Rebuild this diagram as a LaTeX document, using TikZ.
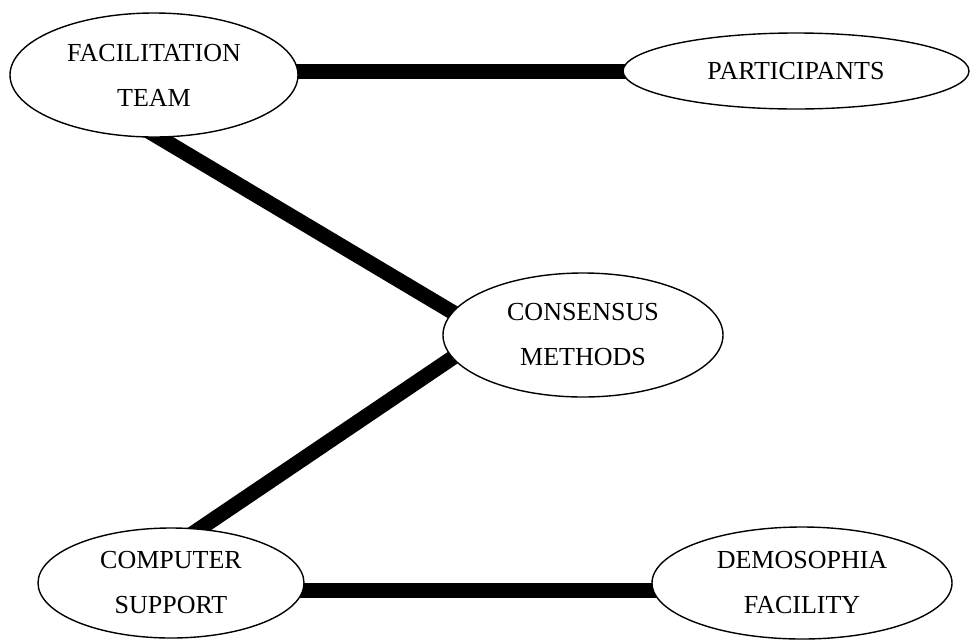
\documentclass[tikz,border=0pt]{standalone}
\usepackage{fontspec}
\setmainfont{Liberation Serif}
\usetikzlibrary{shapes.geometric,backgrounds,calc}
\tikzset{
  blob/.style={ellipse, draw=black, line width=1.4pt, fill=white, inner sep=0pt,
    align=center, font=\fontsize{26}{45}\selectfont},
  link/.style={line width=15pt, black}
}
\begin{document}
\begin{tikzpicture}[x=1pt,y=-1pt]
\useasboundingbox (0,0) rectangle (972,641);
\node[blob, minimum width=288pt, minimum height=124pt] (ft) at (154,75) {FACILITATION\\TEAM};
\node[blob, minimum width=346pt, minimum height=76pt] (pa) at (796,71) {PARTICIPANTS};
\node[blob, minimum width=280pt, minimum height=124pt] (cm) at (583,335) {CONSENSUS\\METHODS};
\node[blob, minimum width=266pt, minimum height=110pt] (cs) at (171,583) {COMPUTER\\SUPPORT};
\node[blob, minimum width=300pt, minimum height=112pt] (df) at (802,583) {DEMOSOPHIA\\FACILITY};
\begin{scope}[on background layer]
\draw[link] (ft.center |- pa.center) -- (pa.center);
\draw[link] ($(ft.-85)!-20pt!(cm.170)$) -- ($(cm.170)!-20pt!(ft.-85)$);
\draw[link] ($(cm.190)!-20pt!(cs.62)$) -- ($(cs.62)!-20pt!(cm.190)$);
\draw[link] ([yshift=-7pt]cs.center) -- ([yshift=-7pt]df.center);
\end{scope}
\end{tikzpicture}
\end{document}
